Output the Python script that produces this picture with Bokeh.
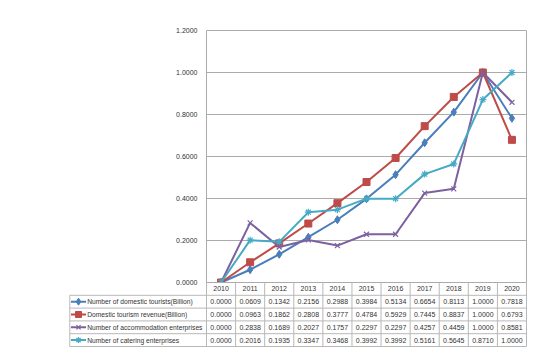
from bokeh.plotting import figure
from bokeh.models import Range1d, ColumnDataSource
from bokeh.core.properties import value
from bokeh.embed import file_html
from bokeh.resources import INLINE

years = ["2010", "2011", "2012", "2013", "2014", "2015", "2016", "2017", "2018", "2019", "2020"]
series_names = [
    "Number of domestic tourists(Billion)",
    "Domestic tourism revenue(Billion)",
    "Number of accommodation enterprises",
    "Number of catering enterprises",
]
tourists = [0.0000, 0.0609, 0.1342, 0.2156, 0.2988, 0.3984, 0.5134, 0.6654, 0.8113, 1.0000, 0.7818]
revenue = [0.0000, 0.0963, 0.1862, 0.2808, 0.3777, 0.4784, 0.5929, 0.7445, 0.8837, 1.0000, 0.6793]
accommodation = [0.0000, 0.2838, 0.1689, 0.2027, 0.1757, 0.2297, 0.2297, 0.4257, 0.4459, 1.0000, 0.8581]
catering = [0.0000, 0.2016, 0.1935, 0.3347, 0.3468, 0.3992, 0.3992, 0.5161, 0.5645, 0.8710, 1.0000]
y_ticks = [0.0, 0.2, 0.4, 0.6, 0.8, 1.0, 1.2]

series = [tourists, revenue, accommodation, catering]
colors = ["#4A7EBB", "#BE4B48", "#7D60A0", "#46AAC5"]
markers = ["diamond", "square", "x", "asterisk"]
msizes = [8, 7, 7, 7]

FONT = "Liberation Sans"
FS = "7px"
FS_LABEL = "6.7px"
GRID = "#ABABAB"
TGRID = "#B8B8B8"
TXT = "#333333"

xs = list(range(len(years)))

# geometry (pixels -> data units)
XU = 320 / 11          # px per category
YU = 210.0             # px per 1.0 value
ROW = 12.8 / YU        # table row height in y units
LABEL_W = 4.70         # label column width in category units
x0 = -0.5 - LABEL_W
XL, XR = -0.5, 10.5
YTOP = max(y_ticks)

p = figure(width=538, height=347, output_backend="svg", toolbar_location=None,
           x_range=Range1d(-0.5 - 139 / XU, XR + 1 / XU),
           y_range=Range1d(-65 / YU, YTOP + 10 / YU),
           min_border_left=67, min_border_right=11, min_border_top=20, min_border_bottom=0)
p.axis.visible = False
p.grid.visible = False
p.outline_line_color = None
p.background_fill_color = "white"
p.border_fill_color = "white"

# chart gridlines and frame
p.segment(x0=[XL] * len(y_ticks), y0=y_ticks, x1=[XR] * len(y_ticks), y1=y_ticks,
          line_color=GRID, line_width=1)
p.segment(x0=[XL, XR], y0=[0, 0], x1=[XL, XR], y1=[YTOP, YTOP], line_color=GRID, line_width=1)

# series
for vals, c, m, s in zip(series, colors, markers, msizes):
    p.line(xs, vals, line_color=c, line_width=2)
    if m in ("x", "asterisk"):
        p.scatter(xs, vals, marker=m, size=s, line_color=c, line_width=1.2)
    else:
        p.scatter(xs, vals, marker=m, size=s, fill_color=c, line_color=c)

# white cover below zero line (plot-area clipping)
p.quad(left=[XL], right=[XR + 0.5], top=[0], bottom=[-70 / YU],
       fill_color="white", line_color=None)
# redraw zero line
p.segment(x0=[XL], y0=[0], x1=[XR], y1=[0], line_color=GRID, line_width=1)

# y tick labels
p.text(x=[XL] * len(y_ticks), y=y_ticks, text=[f"{v:.4f}" for v in y_ticks],
       x_offset=-9, text_align="right", text_baseline="middle",
       text_font=value(FONT), text_font_size=FS, text_color=TXT)

# ---------- table ----------
n_rows = len(series)
hy = [-(k + 1) * ROW for k in range(n_rows + 1)]
p.segment(x0=[x0] * len(hy), y0=hy, x1=[XR] * len(hy), y1=hy, line_color=TGRID, line_width=1)
vx = [i - 0.5 for i in range(len(years) + 1)]
ybot = hy[-1]
p.segment(x0=vx, y0=[0] * len(vx), x1=vx, y1=[ybot] * len(vx), line_color=TGRID, line_width=1)
p.segment(x0=[x0], y0=[-ROW], x1=[x0], y1=[ybot], line_color=TGRID, line_width=1)

# header
p.text(x=xs, y=[-0.5 * ROW] * len(xs), text=years, text_align="center", text_baseline="middle",
       text_font=value(FONT), text_font_size=FS, text_color=TXT)

# values
cx, cy, ct = [], [], []
for r, vals in enumerate(series):
    for i, v in enumerate(vals):
        cx.append(i)
        cy.append(-(r + 1.5) * ROW)
        ct.append(f"{v:.4f}")
src = ColumnDataSource(dict(x=cx, y=cy, text=ct))
p.text(x="x", y="y", text="text", source=src, text_align="center", text_baseline="middle",
       text_font=value(FONT), text_font_size=FS, text_color=TXT)

# legend keys + labels
ry = [-(r + 1.5) * ROW for r in range(n_rows)]
sym_a = x0 + 0.04
sym_b = x0 + 0.56
p.segment(x0=[sym_a] * n_rows, y0=ry, x1=[sym_b] * n_rows, y1=ry, line_color=colors, line_width=2)
for yy, c, m, s in zip(ry, colors, markers, msizes):
    if m in ("x", "asterisk"):
        p.scatter([(sym_a + sym_b) / 2], [yy], marker=m, size=s - 1, line_color=c, line_width=1.2)
    else:
        p.scatter([(sym_a + sym_b) / 2], [yy], marker=m, size=s - 1, fill_color=c, line_color=c)
p.text(x=[x0 + 0.60] * n_rows, y=ry, text=series_names, text_align="left", text_baseline="middle",
       text_font=value(FONT), text_font_size=FS_LABEL, text_color=TXT)

open("out.html", "w").write(file_html(p, INLINE))
